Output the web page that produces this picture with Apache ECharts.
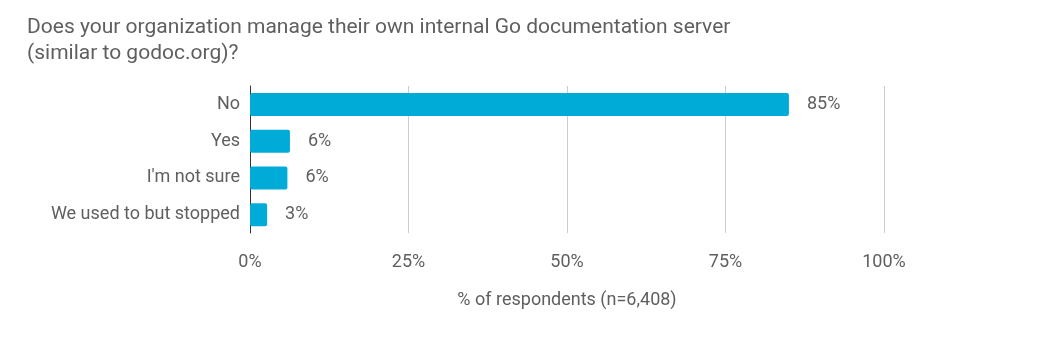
<!DOCTYPE html>
<html><head><meta charset="utf-8">
<script src="https://cdn.jsdelivr.net/npm/echarts@6/dist/echarts.min.js"></script>
<style>html,body{margin:0;padding:0;background:#fff}#c{width:1055px;height:342px}</style>
</head><body><div id="c"></div>
<script>
const categories = ["No", "Yes", "I'm not sure", "We used to but stopped"];
const values = [85, 6.3, 5.9, 2.7];
const tickLabels = ["0%", "25%", "50%", "75%", "100%"];
const titleText = "Does your organization manage their own internal Go documentation server\n(similar to godoc.org)?";
const axisName = "% of respondents (n=6,408)";

const chart = echarts.init(document.getElementById('c'));
const font = 'Roboto';
const fs = 18;
chart.setOption({
  animation: false,
  title: {
    text: titleText, left: 22, top: 10,
    textStyle: {fontFamily: font, fontSize: 21, fontWeight: 'normal', color: '#5f5f5f', lineHeight: 26}
  },
  grid: {left: 250, right: 171, top: 86, bottom: 109},
  xAxis: {
    type: 'value', min: 0, max: 100, interval: 25,
    axisLine: {show: false}, axisTick: {show: false},
    splitLine: {lineStyle: {color: '#cccccc', width: 1}},
    axisLabel: {formatter: v => tickLabels[v / 25], fontFamily: font, fontSize: fs, color: '#5f5f5f', margin: 20},
    name: axisName, nameLocation: 'middle', nameGap: 58,
    nameTextStyle: {fontFamily: font, fontSize: fs, color: '#5f5f5f'}
  },
  yAxis: {
    type: 'category', data: categories, inverse: true,
    axisLine: {lineStyle: {color: '#333333', width: 1}}, axisTick: {show: false},
    axisLabel: {fontFamily: font, fontSize: fs, color: '#5f5f5f', margin: 10}
  },
  series: [{
    type: 'bar', data: values, barWidth: 23,
    itemStyle: {color: '#00acd7', borderRadius: 2},
    label: {show: true, position: 'right', distance: 18, formatter: p => Math.round(p.value) + '%',
      fontFamily: font, fontSize: fs, color: '#5f5f5f'}
  }]
});
</script></body></html>
